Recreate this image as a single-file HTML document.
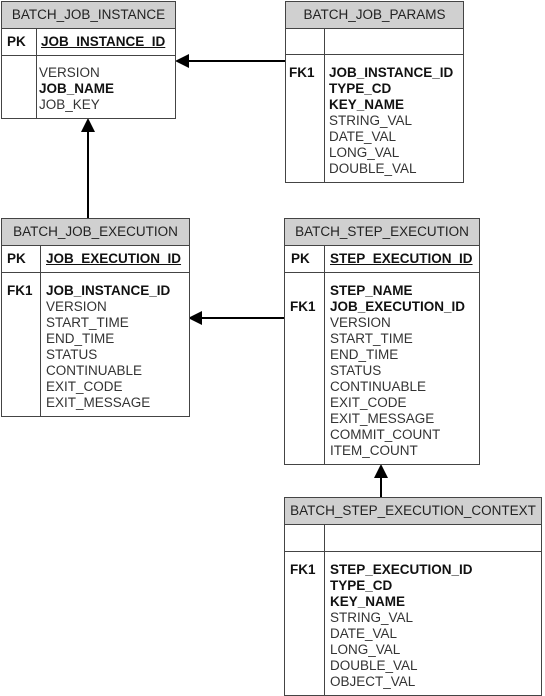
<!DOCTYPE html>
<html><head><meta charset="utf-8"><style>
html,body{margin:0;padding:0;background:#fff;width:545px;height:696px;overflow:hidden}
body{position:relative;font-family:"Liberation Sans",Arial,sans-serif;font-size:13.5px;color:#333}
.t{position:absolute;border:1px solid #444;box-sizing:border-box;background:#fff}
.h{position:absolute;left:0;right:0;top:0;height:26px;background:#d0d0d0;border-bottom:1px solid #444;text-align:center;line-height:26px;font-size:13.5px;color:#222}
.r{position:absolute;left:0;right:0;border-bottom:1px solid #444}
.v{position:absolute;width:1px;background:#444}
.k{position:absolute;font-weight:bold;color:#111;line-height:16px}
.l{position:absolute;line-height:16px;white-space:nowrap}
.b{font-weight:bold;color:#111}
.u{text-decoration:underline}
</style></head><body>
<svg width="545" height="696" style="position:absolute;left:0;top:0">
<g stroke="#000" stroke-width="2">
<line x1="285" y1="61" x2="188" y2="61"/>
<line x1="88" y1="218" x2="88" y2="132"/>
<line x1="285" y1="318" x2="200" y2="318"/>
<line x1="381" y1="497" x2="381" y2="478"/>
</g>
<g fill="#000">
<polygon points="175,61 189,54 189,68"/>
<polygon points="88,118 81,132 95,132"/>
<polygon points="188,318 202,311 202,325"/>
<polygon points="381,464 374,478 388,478"/>
</g>
</svg>

<div class="t" style="left:1px;top:1px;width:175px;height:118px">
<div class="h">BATCH_JOB_INSTANCE</div>
<div class="r" style="top:26px;height:27px"></div>
<div class="v" style="left:34px;top:27px;bottom:0"></div>
<div class="k" style="left:5px;top:32px">PK</div>
<div class="l b u" style="left:39px;top:32px">JOB_INSTANCE_ID</div>
<div class="l" style="left:37px;top:63px">VERSION<br><span class="b">JOB_NAME</span><br>JOB_KEY</div>
</div>

<div class="t" style="left:285px;top:1px;width:179px;height:182px">
<div class="h">BATCH_JOB_PARAMS</div>
<div class="r" style="top:26px;height:26px"></div>
<div class="v" style="left:38px;top:27px;bottom:0"></div>
<div class="k" style="left:3px;top:63px">FK1</div>
<div class="l" style="left:43px;top:63px"><span class="b">JOB_INSTANCE_ID<br>TYPE_CD<br>KEY_NAME</span><br>STRING_VAL<br>DATE_VAL<br>LONG_VAL<br>DOUBLE_VAL</div>
</div>

<div class="t" style="left:1px;top:218px;width:189px;height:199px">
<div class="h">BATCH_JOB_EXECUTION</div>
<div class="r" style="top:26px;height:27px"></div>
<div class="v" style="left:38px;top:27px;bottom:0"></div>
<div class="k" style="left:5px;top:32px">PK</div>
<div class="l b u" style="left:44px;top:32px">JOB_EXECUTION_ID</div>
<div class="k" style="left:5px;top:64px">FK1</div>
<div class="l" style="left:44px;top:64px"><span class="b">JOB_INSTANCE_ID</span><br>VERSION<br>START_TIME<br>END_TIME<br>STATUS<br>CONTINUABLE<br>EXIT_CODE<br>EXIT_MESSAGE</div>
</div>

<div class="t" style="left:284px;top:218px;width:196px;height:247px">
<div class="h">BATCH_STEP_EXECUTION</div>
<div class="r" style="top:26px;height:27px"></div>
<div class="v" style="left:39px;top:27px;bottom:0"></div>
<div class="k" style="left:6px;top:32px">PK</div>
<div class="l b u" style="left:45px;top:32px">STEP_EXECUTION_ID</div>
<div class="k" style="left:5px;top:80px">FK1</div>
<div class="l" style="left:45px;top:64px"><span class="b">STEP_NAME<br>JOB_EXECUTION_ID</span><br>VERSION<br>START_TIME<br>END_TIME<br>STATUS<br>CONTINUABLE<br>EXIT_CODE<br>EXIT_MESSAGE<br>COMMIT_COUNT<br>ITEM_COUNT</div>
</div>

<div class="t" style="left:284px;top:497px;width:258px;height:199px">
<div class="h">BATCH_STEP_EXECUTION_CONTEXT</div>
<div class="r" style="top:26px;height:27px"></div>
<div class="v" style="left:39px;top:27px;bottom:0"></div>
<div class="k" style="left:5px;top:64px">FK1</div>
<div class="l" style="left:45px;top:64px"><span class="b">STEP_EXECUTION_ID<br>TYPE_CD<br>KEY_NAME</span><br>STRING_VAL<br>DATE_VAL<br>LONG_VAL<br>DOUBLE_VAL<br>OBJECT_VAL</div>
</div>
</body></html>
